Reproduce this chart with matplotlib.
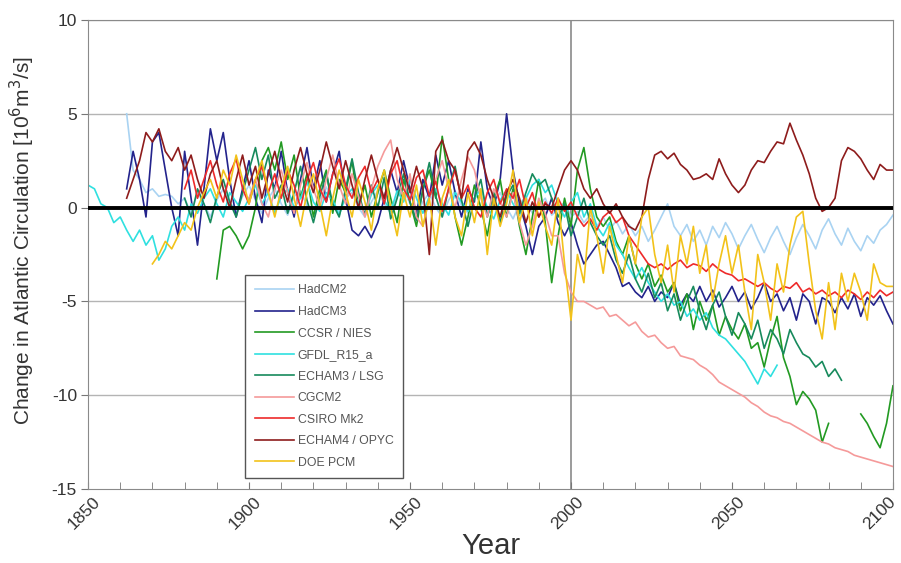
import numpy as np
import matplotlib
matplotlib.use('Agg')
from matplotlib import pyplot as plt
from matplotlib.ticker import MultipleLocator
import matplotlib.transforms as mtransforms

nan = np.nan

# values, every 2 years
hadcm2_start = 1862
hadcm2 = [5.0, 2.0, 1.5, 0.8, 1.0, 0.6, 0.7, 0.6, 0.2, 0.5,
          -0.3, 0.8, 0.2, -0.5, 0.4, 1.0, 0.3, -0.2, 0.6, 1.2,
          0.4, -0.3, 0.5, 1.0, 0.2, -0.4, 0.6, 0.9, 0.1, -0.3,
          0.4, 1.1, 0.3, -0.2, 0.5, 0.8, 0.0, -0.5, 0.3, 0.9,
          0.2, -0.3, 0.6, 1.0, 0.2, -0.4, 0.3, 0.8, 0.0, -0.5,
          0.4, 0.9, 0.1, -0.3, 0.5, 0.7, -0.2, 0.3, 0.8, 0.0,
          -0.6, 0.2, 0.6, -0.3, 0.1, 0.5, -0.4, -0.1, 0.3, -0.5,
          -0.2, -0.8, -0.4, -1.0, -0.5, -1.2, -0.7, -1.4, -0.9, -1.5,
          -1.0, -1.8, -1.2, -0.5, 0.2, -1.0, -1.5, -0.9, -1.8, -1.2,
          -2.0, -1.0, -1.6, -0.8, -1.4, -2.2, -1.5, -0.9, -1.7, -2.4,
          -1.6, -1.0, -1.8, -2.5, -1.6, -0.9, -1.5, -2.2, -1.2, -0.6,
          -1.4, -2.0, -1.1, -1.8, -2.3, -1.5, -1.9, -1.2, -0.9, -0.4]

hadcm3_start = 1862
hadcm3 = [1.0, 3.0, 1.5, -0.5, 3.5, 4.0, 2.0, 0.0, -1.5, 3.0,
          0.5, -2.0, 1.0, 4.2, 2.5, 4.0, 1.5, -0.5, 1.0, 2.5,
          0.5, -0.8, 2.0, 1.0, 3.0, 0.8, -0.5, 1.5, 3.2, 1.0,
          2.5, 0.3, 1.8, 3.0, 0.5, -1.2, -1.5, -1.0, -1.6, -0.8,
          0.5, 2.0, 0.8, 2.5, 1.0, -0.3, 1.5, 0.5, 2.8, 1.2,
          2.5, 0.8, -0.5, 1.0, 0.3, 3.5, 1.0, 0.0, 1.5, 5.0,
          2.0, 0.2, -1.0, -2.5, -1.0, -0.5, 0.5, -0.8, -1.5, -0.8,
          -2.0, -3.0, -2.5, -2.0, -1.8, -2.5, -3.2, -4.2, -4.0, -4.5,
          -4.8, -4.2, -5.0, -4.5, -4.8, -4.0, -5.2, -4.6, -5.0, -4.2,
          -5.0, -4.4, -5.3, -4.8, -4.2, -5.0, -4.5, -5.4, -4.8, -4.0,
          -5.0, -4.6, -5.5, -4.8, -6.0, -4.6, -5.0, -6.2, -4.8, -5.0,
          -5.6, -4.8, -5.4, -4.6, -5.8, -4.8, -5.2, -4.7, -5.5, -6.2]

ccsr_start = 1890
ccsr = [-3.8, -1.2, -1.0, -1.5, -2.2, -1.5, 0.0, 2.5, 3.2, 2.0,
        3.5, 1.5, 2.8, 0.5, 1.8, -0.5, 1.0, 2.0, -0.3, 1.5,
        0.8, 2.5, 0.0, 1.2, -0.5, 0.8, 2.0, 0.5, -0.8, 1.5,
        0.3, -1.0, 1.0, 2.0, 0.5, 3.8, 1.5, -0.5, -2.0, -0.5,
        1.2, 0.0, -1.5, 0.5, 1.5, -0.5, 1.0, -1.0, -2.5, -0.5,
        1.5, -0.8, -4.0, -1.5, 0.5, -1.0, 2.0, 3.2, 1.0, -0.5,
        -1.0, -0.5, -1.8, -2.5, -1.5, -3.0, -3.8, -3.0, -4.2, -3.6,
        -4.5, -4.0, -5.5, -4.6, -6.5, -5.0, -6.0, -5.2, -6.8, -5.8,
        -6.5, -7.0, -6.2, -7.5, -7.2, -8.5, -7.0, -5.8, -8.0, -9.0,
        -10.5, -9.8, -10.2, -10.8, -12.5, -11.5, nan, nan, nan, nan,
        -11.0, -11.5, -12.2, -12.8, -11.5, -9.5]

gfdl_start = 1850
gfdl = [1.2, 1.0, 0.2, 0.0, -0.8, -0.5, -1.2, -1.8, -1.2, -2.0,
        -1.5, -2.8, -2.2, -1.0, -0.5, -1.2, 0.2, -0.3, 0.5, 1.0,
        0.2, -0.5, 0.8, 0.3, -0.2, 0.5, 1.2, 0.2, 0.8, -0.3,
        0.6, 1.0, 0.0, 0.5, 1.4, 0.3, -0.2, 0.8, 0.4, -0.4,
        0.6, 1.0, 0.2, -0.3, 0.7, 1.2, 0.4, -0.2, 0.9, 0.3,
        1.5, 0.5, -0.3, 0.6, 1.0, 0.2, -0.4, 0.8, 0.3, -0.2,
        0.5, 1.0, 0.0, -0.6, 0.4, 0.9, 0.2, -0.4, 0.5, 1.2,
        1.5, 0.8, 1.2, 0.2, -0.5, 0.3, 0.8, -0.5, 0.2, -1.0,
        -1.5, -0.8, -2.0, -2.5, -3.2, -3.8, -3.2, -4.0, -4.5, -5.0,
        -4.6, -5.2, -5.0, -5.8, -5.4, -6.0, -5.6, -6.4, -6.8, -7.0,
        -7.4, -7.8, -8.2, -8.8, -9.4, -8.6, -9.0, -8.4]

echam3_start = 1880
echam3 = [0.5, -0.5, 1.0, 0.2, -0.8, 0.6, 1.5, 0.3, -0.5, 0.8,
          2.0, 3.2, 1.5, 2.8, 0.5, 1.2, -0.3, 0.8, 2.2, 0.4,
          -0.8, 0.6, 1.8, 0.2, -0.5, 1.0, 2.6, 0.8, -0.4, 1.2,
          0.0, 1.6, -0.6, 0.5, 1.8, 0.3, -0.7, 0.9, 2.4, 0.6,
          -0.5, 1.0, 2.2, 0.4, -1.0, 0.5, 1.5, -0.5, 0.8, -0.8,
          0.6, 1.2, -0.3, 0.8, 1.8, 1.2, 1.5, 0.5, -0.5, 0.2,
          -1.5, -0.5, 0.5, -0.8, -1.5, -2.0, -1.5, -2.8, -3.5, -2.5,
          -3.8, -4.5, -3.5, -4.8, -4.0, -5.5, -4.6, -6.0, -5.0, -4.2,
          -5.5, -6.5, -5.2, -4.5, -5.8, -6.8, -5.6, -6.2, -7.0, -6.0,
          -7.5, -6.5, -7.0, -7.8, -6.5, -7.2, -7.8, -8.0, -8.5, -8.2,
          -9.0, -8.6, -9.2]

cgcm2_start = 1900
cgcm2 = [0.5, 1.5, 0.2, -0.5, 1.0, 2.0, 0.8, -0.3, 1.2, 2.4,
         1.0, 0.0, 1.5, 2.8, 1.2, 0.2, 1.8, 0.6, -0.5, 1.0,
         2.2, 3.0, 3.6, 1.5, 0.5, 1.8, -0.5, -1.0, 0.5, 1.5,
         2.5, 1.0, 0.0, 1.5, 2.7, 2.0, 0.5, -0.5, 1.0, 0.3,
         -0.5, 0.8, -0.8, -2.0, -1.0, 0.5, -0.3, -1.5, -1.5, -3.5,
         -4.5, -5.0, -5.0, -5.2, -5.4, -5.3, -5.8, -5.7, -6.0, -6.3,
         -6.1, -6.6, -6.9, -6.8, -7.2, -7.5, -7.4, -7.9, -8.0, -8.1,
         -8.4, -8.6, -8.9, -9.3, -9.5, -9.7, -9.9, -10.1, -10.4, -10.6,
         -10.9, -11.1, -11.2, -11.4, -11.5, -11.7, -11.9, -12.1, -12.3, -12.5,
         -12.6, -12.8, -12.9, -13.0, -13.2, -13.3, -13.4, -13.5, -13.6, -13.7,
         -13.8]

csiro_start = 1880
csiro = [1.0, 2.0, 0.5, 1.5, 2.5, 1.2, 0.3, 1.8, 2.6, 1.0,
         0.2, 1.5, 2.2, 0.8, 1.8, 0.5, 2.0, 1.2, 0.0, 1.5,
         2.4, 1.0, 0.3, 1.8, 2.6, 1.2, 0.5, 1.6, 2.2, 0.8,
         1.5, 0.2, 1.8, 2.5, 1.0, 0.4, 1.6, 2.0, 0.6, 1.4,
         -0.2, 1.0, 2.0, 0.5, 1.2, 0.0, -0.5, 0.8, 1.5, 0.2,
         1.0, 0.5, 1.5, 0.0, 0.8, -0.5, 0.3, -0.3, 0.5, -0.2,
         0.3, -0.5, -1.0, -0.6, -1.2, -0.5, -0.2, -0.8, -0.5, -1.5,
         -2.0, -2.5, -3.0, -3.2, -3.0, -3.3, -3.0, -2.8, -3.2, -3.0,
         -3.1, -3.4, -3.0, -3.3, -3.5, -3.6, -3.9, -3.8, -4.0, -4.2,
         -4.0, -4.3, -4.5, -4.2, -4.3, -4.0, -4.5, -4.3, -4.6, -4.4,
         -4.7, -4.5, -4.8, -4.4, -4.6, -4.9, -4.5, -4.8, -4.4, -4.7,
         -4.5]

echam4_start = 1862
echam4 = [0.5, 1.5, 2.5, 4.0, 3.5, 4.2, 3.0, 2.5, 3.2, 2.0,
          2.8, 1.5, 0.5, 1.8, 2.5, 1.0, 0.0, 1.5, 2.8, 1.2,
          2.2, 0.5, 1.8, 3.0, 1.5, 0.3, 2.0, 3.2, 1.8, 0.8,
          2.0, 3.5, 2.2, 1.0, 2.5, 1.2, 0.0, 1.5, 2.8, 1.5,
          0.5, 2.0, 3.2, 2.0, 0.8, 2.2, 1.0, -2.5, 3.0, 3.6,
          2.5, 2.0, 0.5, 3.0, 3.5, 2.8, 1.5, 0.5, -0.5, 0.8,
          1.5, 0.5, -0.8, 0.3, -0.5, 0.2, 0.0, 1.0, 2.0, 2.5,
          2.0, 1.0, 0.5, 1.0, 0.2, -0.3, 0.2, -0.5, -1.0, -1.2,
          -0.5, 1.5, 2.8, 3.0, 2.6, 2.9, 2.3, 2.0, 1.5, 1.6,
          1.8, 1.5, 2.6, 1.8, 1.2, 0.8, 1.2, 2.0, 2.5, 2.4,
          3.0, 3.5, 3.4, 4.5, 3.6, 2.8, 1.8, 0.5, -0.2, 0.0,
          0.5, 2.5, 3.2, 3.0, 2.6, 2.0, 1.5, 2.3, 2.0, 2.0]

doe_start = 1870
doe = [-3.0, -2.5, -1.8, -2.2, -1.5, -0.8, -1.2, 0.0, 0.8, 1.5,
       0.5, 2.0, 1.2, 2.8, 1.5, 0.2, 1.5, 2.5, 0.8, -0.5,
       1.0, 2.2, 0.5, -1.0, 0.8, 1.8, 0.2, -1.5, 0.5, 2.0,
       0.8, -0.5, 1.5, 0.3, -1.2, 1.0, 2.0, 0.0, -1.5, 0.8,
       -0.5, 1.2, -1.0, 0.5, -2.0, 0.5, 1.5, -0.5, -1.5, 0.8,
       -0.8, 1.0, -2.5, 0.5, -1.0, 0.2, 2.0, -0.8, 0.5, -1.5,
       0.3, -1.0, -2.0, 0.5, -3.0, -6.0, -2.5, -4.0, 0.0, -1.5,
       -3.5, -1.0, -2.5, -4.0, -1.5, -3.0, -0.5, 0.0, -2.5, -4.0,
       -2.0, -4.5, -1.5, -3.0, -1.0, -3.5, -2.0, -5.0, -3.0, -1.5,
       -3.5, -2.0, -4.5, -6.5, -2.5, -4.0, -6.0, -3.0, -4.5, -2.0,
       -0.5, -0.2, -3.0, -5.5, -7.0, -4.0, -6.5, -3.5, -5.0, -3.5,
       -4.5, -6.0, -3.0, -4.0, -4.2, -4.2]

models = ['HadCM2', 'HadCM3', 'CCSR / NIES', 'GFDL_R15_a', 'ECHAM3 / LSG',
          'CGCM2', 'CSIRO Mk2', 'ECHAM4 / OPYC', 'DOE PCM']
series = [(hadcm2_start, hadcm2), (hadcm3_start, hadcm3), (ccsr_start, ccsr),
          (gfdl_start, gfdl), (echam3_start, echam3), (cgcm2_start, cgcm2),
          (csiro_start, csiro), (echam4_start, echam4), (doe_start, doe)]
colors = ['#a9d3f2', '#23238c', '#229a22', '#2fe0e0', '#178a5c',
          '#f59a9a', '#ee2a2a', '#8e1c1c', '#f2c21a']
year_ticks = [1850, 1900, 1950, 2000, 2050, 2100]

plt.rcParams['font.family'] = ['Liberation Sans', 'DejaVu Sans']
plt.rcParams['axes.unicode_minus'] = False

fig = plt.figure(figsize=(9.01, 5.63), dpi=100)
ax = fig.add_axes([0.0977, 0.1314, 0.8934, 0.8331])

for h in [10, 5, -5, -10]:
    ax.axhline(h, color='#b4b4b4', lw=1, zorder=0)
ax.axvline(2000, color='#8a8a8a', lw=1.2, zorder=0)

for name, (start, vals), c in zip(models, series, colors):
    yrs = np.arange(start, start + 2 * len(vals), 2)
    ax.plot(yrs, vals, color=c, lw=1.2, label=name)

ax.axhline(0, color='black', lw=2.8, zorder=5)

ax.set_xlim(1850, 2100)
ax.set_ylim(-15, 10)
ax.set_xticks(year_ticks)
ax.set_xticklabels([str(y) for y in year_ticks])
ax.xaxis.set_minor_locator(MultipleLocator(10))
ax.yaxis.set_major_locator(MultipleLocator(5))
ax.tick_params(axis='x', which='both', direction='in', length=5,
               color='#777777', labelsize=12.5, labelcolor='#333333')
ax.tick_params(axis='y', direction='out', length=5, color='#777777',
               labelsize=12.5, labelcolor='#333333', pad=3)
xlabels = ax.get_xticklabels()
for i, lbl in enumerate(xlabels):
    dx = 5 if i < len(xlabels) - 1 else -5
    shift = mtransforms.ScaledTranslation(dx / 100, 0, fig.dpi_scale_trans)
    lbl.set_rotation(45)
    lbl.set_ha('right')
    lbl.set_va('top')
    lbl.set_rotation_mode('anchor')
    lbl.set_transform(lbl.get_transform() + shift)
for s in ax.spines.values():
    s.set_color('#8a8a8a')

ax.set_xlabel('Year', fontsize=21, color='#333333', labelpad=0)
ax.set_ylabel('Change in Atlantic Circulation [10$^6$m$^3$/s]',
              fontsize=15, color='#333333')
ax.yaxis.set_label_coords(-0.063, 0.53)

leg = ax.legend(loc='upper left', bbox_to_anchor=(0.195, 0.457),
                fontsize=8.8, frameon=True, fancybox=False,
                handlelength=3.2, labelspacing=0.78, borderpad=0.8,
                handletextpad=0.3, borderaxespad=0)
leg.get_frame().set_edgecolor('#555555')
leg.get_frame().set_linewidth(1.0)
leg.get_frame().set_alpha(1)
for t in leg.get_texts():
    t.set_color('#555555')

fig.savefig('out.png', dpi=100)
